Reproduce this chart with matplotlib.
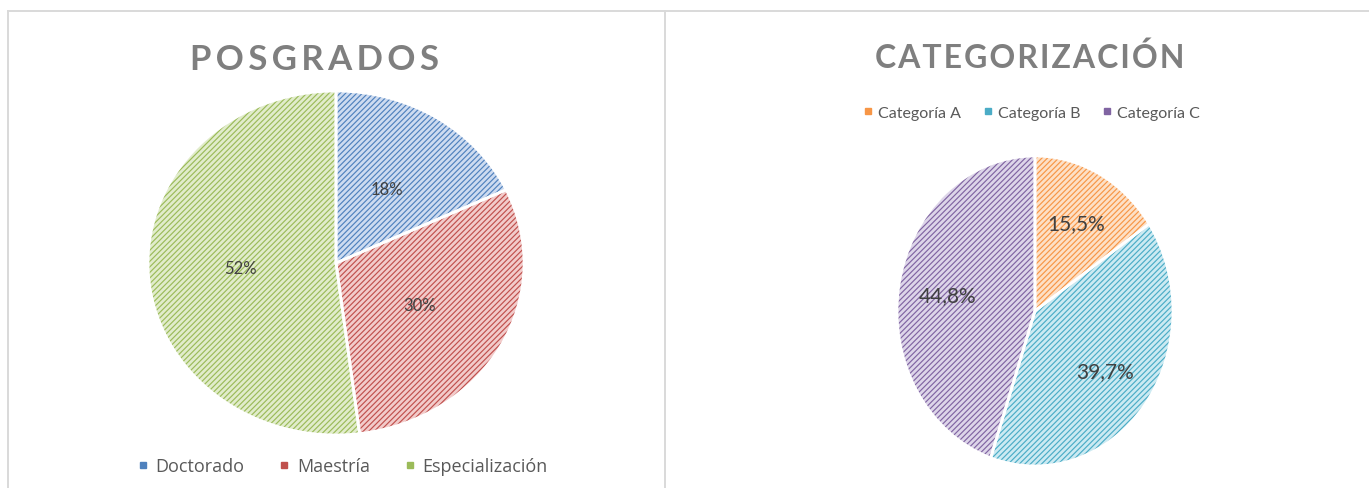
import matplotlib.pyplot as plt
from matplotlib.lines import Line2D

# --- Data ---
pos_labels = ['Doctorado', 'Maestría', 'Especialización']
pos_values = [18, 30, 52]
pos_colors = ['#4f81bd', '#c0504d', '#9bbb59']
pos_fill = ['#cddbf0', '#f2cbca', '#e1eccb']

cat_labels = ['Categoría A', 'Categoría B', 'Categoría C']
cat_values = [15.5, 39.7, 44.8]
cat_colors = ['#f79646', '#4bacc6', '#8064a2']
cat_fill = ['#fde0c6', '#cceaf2', '#ddd5e9']

plt.rcParams['hatch.linewidth'] = 0.85
title_color = '#7f7f7f'
text_color = '#404040'

fig = plt.figure(figsize=(13.69, 4.89), dpi=100)


def hatched_pie(ax, values, fill, hatch_col, pctd, fmt, fsize):
    wedges, _ = ax.pie(values, colors=fill, startangle=90, counterclock=False,
                       wedgeprops=dict(linewidth=0))
    for w, c in zip(wedges, hatch_col):
        w.set_hatch('//////')
        w.set_edgecolor(c)
        w.set_linewidth(0)
    # white borders on top
    ax.pie(values, colors=['none'] * len(values), startangle=90, counterclock=False,
           autopct=fmt, pctdistance=pctd,
           textprops=dict(color=text_color, fontsize=fsize, family='Lato'),
           wedgeprops=dict(edgecolor='white', linewidth=2.0))
    ax.set_aspect('auto')
    ax.set_xlim(-1.0, 1.0)
    ax.set_ylim(-1.0, 1.0)


# --- left pie ---
ax1 = fig.add_axes([0.1081, 0.1084, 0.2747, 0.7035])
hatched_pie(ax1, pos_values, pos_fill, pos_colors, 0.51,
            lambda p: f'{p:.0f}%', 12)

# --- right pie ---
ax2 = fig.add_axes([0.6552, 0.045, 0.2016, 0.634])
hatched_pie(ax2, cat_values, cat_fill, cat_colors, 0.64,
            lambda p: f'{p:.1f}%'.replace('.', ','), 15)

# --- titles ---
fig.text(0.2295, 0.878, '\u2009'.join('POSGRADOS'), ha='center', va='center',
         fontsize=25, fontweight='bold', color=title_color, family='Lato')
fig.text(0.7525, 0.882, '\u200a'.join('CATEGORIZACIÓN'), ha='center', va='center',
         fontsize=23, fontweight='bold', color=title_color, family='Lato')

# --- legends ---
h1 = [Line2D([], [], marker='s', ls='', color=c, markersize=5) for c in pos_colors]
fig.legend(h1, pos_labels, loc='center', bbox_to_anchor=(0.2490, 0.045), ncol=3,
           frameon=False, handletextpad=0.2, columnspacing=1.7, handlelength=1.0,
           prop=dict(family='Open Sans', size=13), labelcolor='#595959')

h2 = [Line2D([], [], marker='s', ls='', color=c, markersize=5) for c in cat_colors]
fig.legend(h2, cat_labels, loc='center', bbox_to_anchor=(0.7525, 0.768), ncol=3,
           frameon=False, handletextpad=0.1, columnspacing=1.2, handlelength=1.0,
           prop=dict(family='Lato', size=11.5), labelcolor='#595959')

# --- panel borders ---
border = '#d9d9d9'
fig.add_artist(Line2D([0.0058, 1.0], [0.9755, 0.9755], color=border, lw=1.4))
fig.add_artist(Line2D([0.0058, 0.0058], [0.0, 0.9755], color=border, lw=1.4))
fig.add_artist(Line2D([0.4858, 0.4858], [0.0, 0.9755], color=border, lw=1.4))

fig.savefig('out.png', dpi=100)
